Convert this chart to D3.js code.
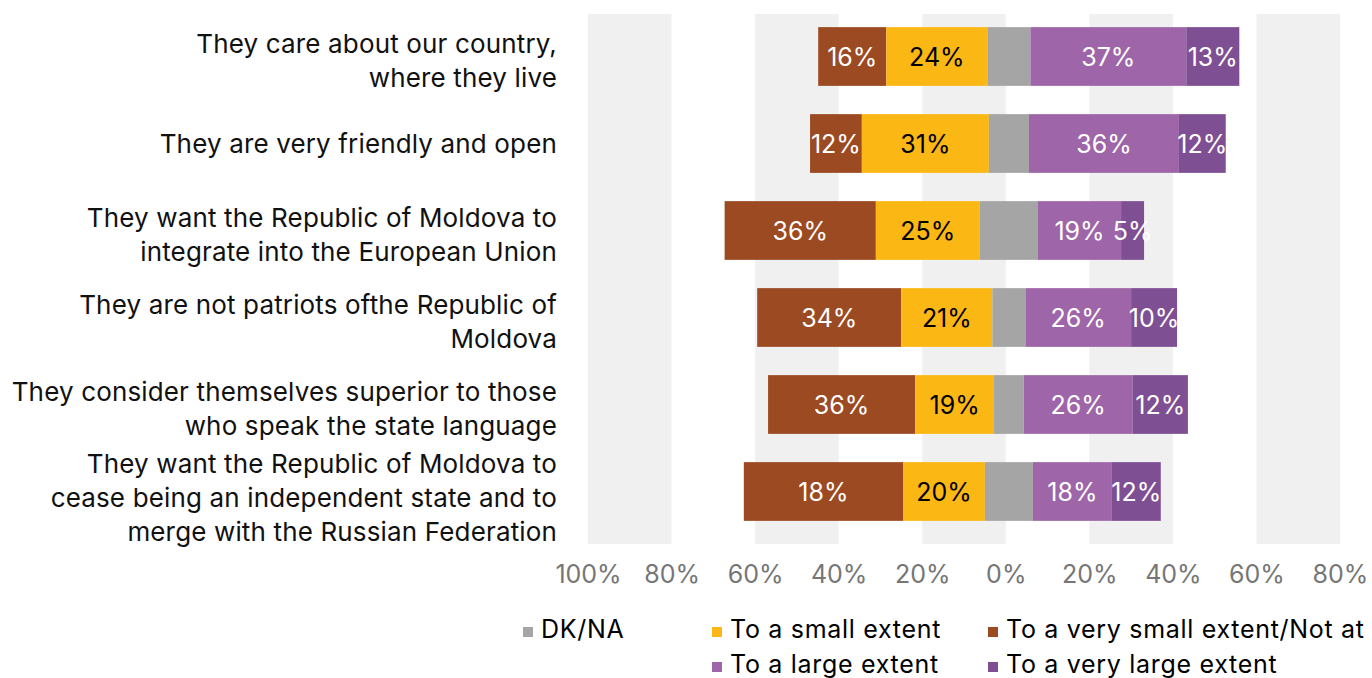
<!DOCTYPE html>
<html><head><meta charset="utf-8">
<script src="https://cdn.jsdelivr.net/npm/d3@7"></script>
<style>
body{margin:0;background:#fff;}
svg{display:block;font-family:Inter,"Noto Sans",sans-serif;}
</style>
</head><body>
<svg id="chart" width="1372" height="678"></svg>
<script>
const categories = [
  ["They care about our country,", "where they live"],
  ["They are very friendly and open"],
  ["They want the Republic of Moldova to", "integrate into the European Union"],
  ["They are not patriots ofthe Republic of", "Moldova"],
  ["They consider themselves superior to those", "who speak the state language"],
  ["They want the Republic of Moldova to", "cease being an independent state and to", "merge with the Russian Federation"]
];
const veryLow  = [16.3, 12.4, 36.2, 34.5, 35.2, 38.1];
const low      = [24.2, 30.4, 24.9, 21.8, 18.9, 19.6];
const dkna     = [10.3,  9.6, 13.9,  7.9,  7.1, 11.5];
const high     = [37.3, 35.9, 19.9, 25.3, 26.1, 18.9];
const veryHigh = [12.7, 11.2,  5.5, 11.0, 13.2, 11.7];
const veryLowLabels  = ["16%", "12%", "36%", "34%", "36%", "18%"];
const lowLabels      = ["24%", "31%", "25%", "21%", "19%", "20%"];
const highLabels     = ["37%", "36%", "19%", "26%", "26%", "18%"];
const veryHighLabels = ["13%", "12%", "5%", "10%", "12%", "12%"];
const dkCenter = 0.75; // DK/NA segment is centred slightly right of 0%
const tickValues = [-100, -80, -60, -40, -20, 0, 20, 40, 60, 80];
const tickLabels = ["100%", "80%", "60%", "40%", "20%", "0%", "20%", "40%", "60%", "80%"];
const legendNames = ["DK/NA", "To a small extent", "To a very small extent/Not at all", "To a large extent", "To a very large extent"];

const colors = {dk:"#a5a5a5", low:"#fbb814", veryLow:"#9c4a22", high:"#9e66a8", veryHigh:"#7f4f94"};

const svg = d3.select("#chart");
const x = d3.scaleLinear().domain([-100, 80]).range([588, 1340]);
const y = d3.scaleBand().domain(d3.range(categories.length)).range([13, 535])
  .paddingInner(0.325).paddingOuter(0.1625);
const plotTop = 14, plotBottom = 544;

// alternating background bands
const bands = [];
for (let i = 0; i + 1 < tickValues.length; i += 2) bands.push([tickValues[i], tickValues[i+1]]);
svg.append("g").selectAll("rect").data(bands).join("rect")
  .attr("x", d => x(d[0])).attr("width", d => x(d[1]) - x(d[0]))
  .attr("y", plotTop).attr("height", plotBottom - plotTop)
  .attr("fill", "#f0f0f0");

// build segments
const segs = [];
categories.forEach((c, i) => {
  const negStart = dkCenter - (dkna[i] / 2) - low[i] - veryLow[i];
  let s = negStart;
  const parts = [
    {key:"veryLow", v:veryLow[i], label:veryLowLabels[i], tc:"#fff"},
    {key:"low", v:low[i], label:lowLabels[i], tc:"#000"},
    {key:"dk", v:dkna[i], label:null, tc:"#fff"},
    {key:"high", v:high[i], label:highLabels[i], tc:"#fff"},
    {key:"veryHigh", v:veryHigh[i], label:veryHighLabels[i], tc:"#fff"}
  ];
  parts.forEach(p => { segs.push({row:i, x0:s, x1:s + p.v, ...p}); s += p.v; });
});

const gb = svg.append("g");
gb.selectAll("rect").data(segs).join("rect")
  .attr("x", d => x(d.x0)).attr("width", d => x(d.x1) - x(d.x0))
  .attr("y", d => y(d.row)).attr("height", y.bandwidth())
  .attr("fill", d => colors[d.key]);
gb.selectAll("text").data(segs.filter(d => d.label)).join("text")
  .attr("x", d => (x(d.x0) + x(d.x1)) / 2)
  .attr("y", d => y(d.row) + y.bandwidth() / 2 + 9)
  .attr("text-anchor", "middle")
  .attr("font-size", 25)
  .attr("fill", d => d.tc)
  .text(d => d.label);

// x axis
const ax = svg.append("g").attr("transform", `translate(0,559)`)
  .call(d3.axisBottom(x).tickValues(tickValues).tickFormat((d, i) => tickLabels[i]).tickSize(0).tickPadding(6));
ax.select(".domain").remove();
ax.selectAll("text").attr("font-size", 25).attr("fill", "#767676").attr("font-family", "Inter,'Noto Sans',sans-serif");

// category labels
const lineH = 34;
const gl = svg.append("g");
categories.forEach((lines, i) => {
  const cy = y(i) + y.bandwidth() / 2;
  const n = lines.length;
  const extra = n > 2 ? 6 : (n > 1 ? 4 : 0);
  const t = gl.append("text").attr("text-anchor", "end").attr("font-size", 26)
    .attr("letter-spacing", "0.15px").attr("fill", "#111");
  lines.forEach((ln, j) => {
    t.append("tspan").attr("x", 557)
      .attr("y", cy + 9.5 + extra + (j - (n - 1) / 2) * lineH)
      .text(ln);
  });
});

// legend
const legendItems = [
  {name:legendNames[0], c:colors.dk, lx:523, ly:627},
  {name:legendNames[1], c:colors.low, lx:712, ly:627},
  {name:legendNames[2], c:colors.veryLow, lx:988, ly:627},
  {name:legendNames[3], c:colors.high, lx:712, ly:662},
  {name:legendNames[4], c:colors.veryHigh, lx:988, ly:662}
];
const lg = svg.append("g").selectAll("g").data(legendItems).join("g")
  .attr("transform", d => `translate(${d.lx},${d.ly})`);
lg.append("rect").attr("width", 10).attr("height", 10).attr("fill", d => d.c);
lg.append("text").attr("x", 18).attr("y", 11).attr("font-size", 25)
  .attr("letter-spacing", "0.7px").attr("fill", "#000").text(d => d.name);
</script>
</body></html>
